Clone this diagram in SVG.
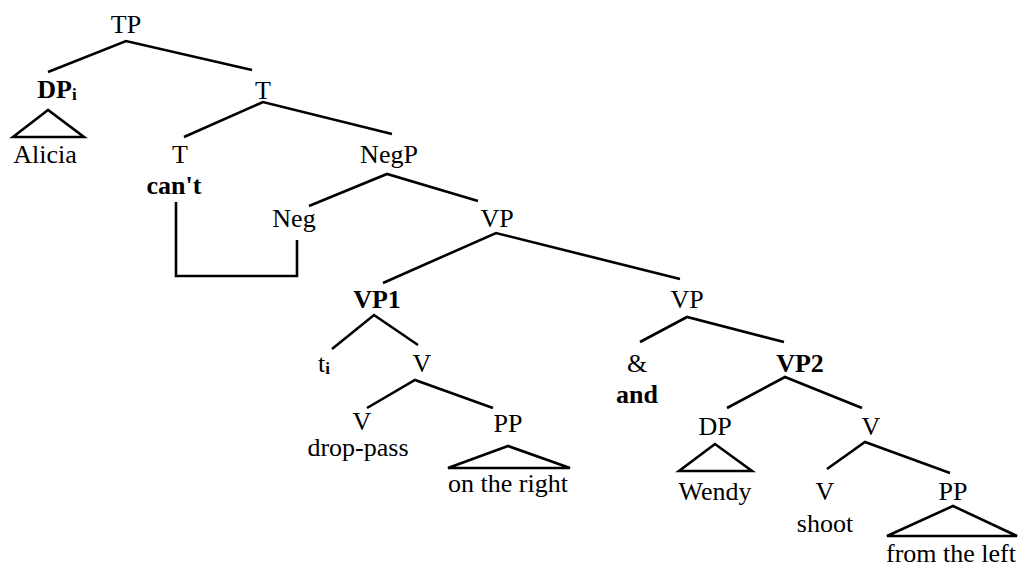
<svg xmlns="http://www.w3.org/2000/svg" width="1024" height="567" viewBox="0 0 1024 567">
<style>
text{font-family:"Liberation Serif","Times New Roman","DejaVu Serif",serif;font-size:26px;fill:#000;text-anchor:middle}
.b{font-weight:bold}
.sub{font-size:17px;font-weight:bold}
line,polyline,polygon{stroke:#000;stroke-width:2.6;fill:none;stroke-linecap:butt;stroke-linejoin:miter}
</style>
<rect width="1024" height="567" fill="#fff"/>
<g id="connectors">
<polyline points="48,72 126,41 252,70"/>
<polyline points="184,137 263,102 392,134"/>
<polyline points="309,206 387,174 478,201"/>
<polyline points="383,283 496,233 680,279"/>
<polyline points="332,349 374,315 418,345"/>
<polyline points="367,408 415,380 493,408"/>
<polyline points="640,342 687,317 784,342"/>
<polyline points="727,408 785,377 862,408"/>
<polyline points="827,469 865,442 950,473"/>
<polyline points="176,202 176,276 297,276 297,240"/>
</g>
<g id="TP"><text x="126" y="33">TP</text></g>
<g id="DPi"><text x="57" y="98" class="b">DP<tspan class="sub" dy="2">i</tspan></text><polygon points="48,110 13,137 84,137"/><text x="45" y="163">Alicia</text></g>
<g id="T1"><text x="263" y="99">T</text></g>
<g id="T2"><text x="180" y="163">T</text><text x="174" y="194" class="b">can't</text></g>
<g id="NegP"><text x="389" y="163">NegP</text></g>
<g id="Neg"><text x="294" y="227">Neg</text></g>
<g id="VP"><text x="497" y="227">VP</text></g>
<g id="VP1"><text x="377" y="308" class="b">VP1</text></g>
<g id="ti"><text x="324" y="372">t<tspan class="sub" dy="2">i</tspan></text></g>
<g id="V1"><text x="422" y="372">V</text></g>
<g id="V2"><text x="362" y="430">V</text><text x="358" y="456">drop-pass</text></g>
<g id="PP1"><text x="508" y="432">PP</text><polygon points="508,446 448,468 570,468"/><text x="508" y="492">on the right</text></g>
<g id="VPc"><text x="687" y="308">VP</text></g>
<g id="and"><text x="637" y="372">&amp;</text><text x="637" y="403" class="b">and</text></g>
<g id="VP2"><text x="800" y="372" class="b">VP2</text></g>
<g id="DP"><text x="715" y="435">DP</text><polygon points="715,444 679,471 752,471"/><text x="715" y="500">Wendy</text></g>
<g id="V3"><text x="871" y="435">V</text></g>
<g id="V4"><text x="825" y="500">V</text><text x="825" y="532">shoot</text></g>
<g id="PP2"><text x="953" y="500">PP</text><polygon points="953,506 887,536 1017,536"/><text x="951" y="562">from the left</text></g>
</svg>
